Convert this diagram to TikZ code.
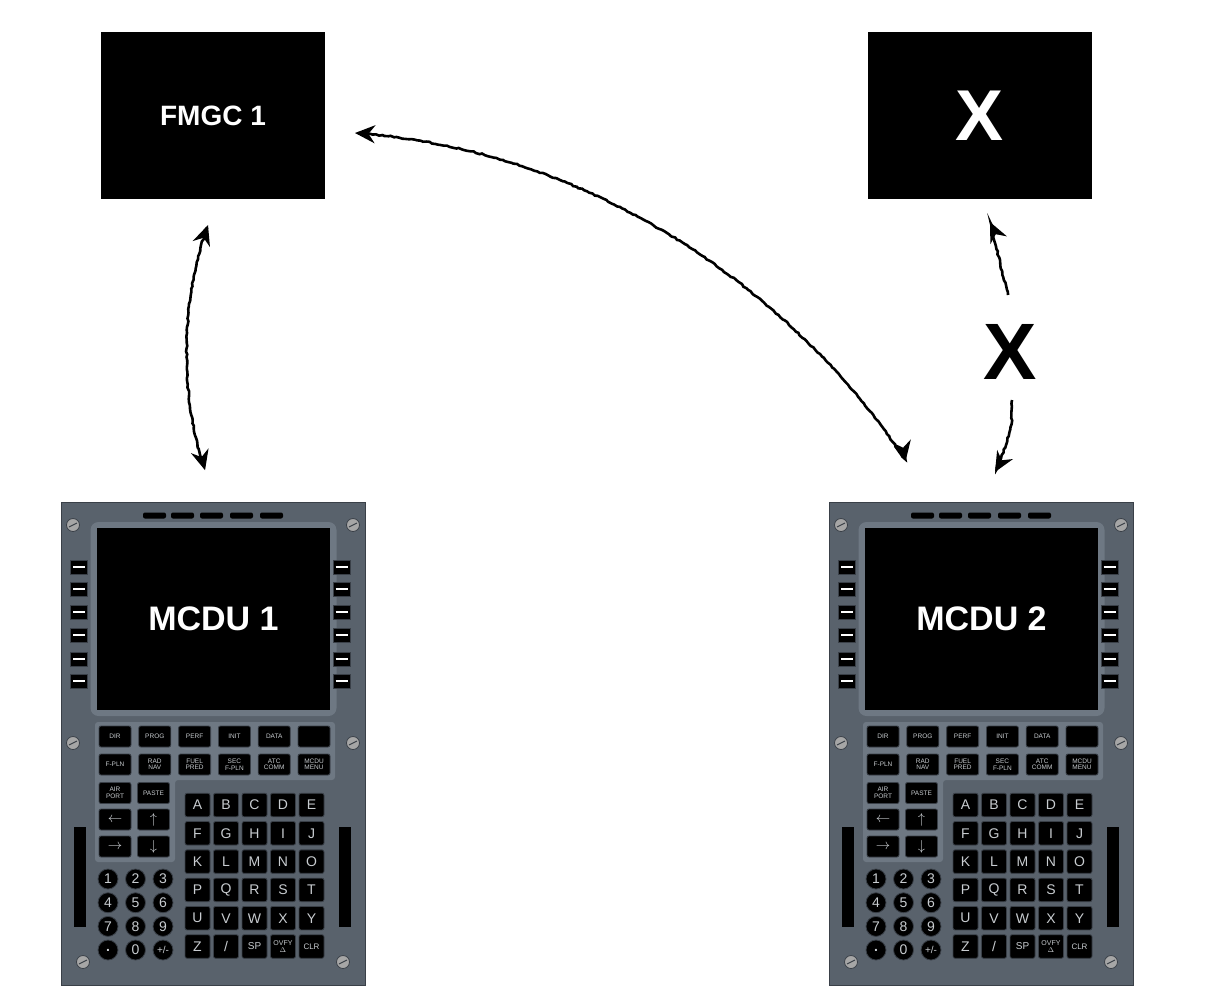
\documentclass[tikz,border=0pt]{standalone}
\usepackage{fontspec}
\setmainfont{Liberation Sans}
\usetikzlibrary{arrows.meta,decorations.pathmorphing,calc}
\definecolor{panel}{HTML}{59626C}
\definecolor{panelL}{HTML}{6E7883}
\definecolor{panelD}{HTML}{3A4048}
\definecolor{keyt}{HTML}{C8CCD0}
\tikzset{
 key/.style={fill=black, rounded corners=2pt, draw=panelD, line width=0.8pt, text=keyt,
   font=\fontsize{6.5}{6.5}\selectfont, align=center, inner sep=0, minimum width=32pt, minimum height=21pt},
 lkey/.style={key, minimum width=25pt, minimum height=23.5pt, font=\fontsize{14}{14}\selectfont},
 nkey/.style={circle, fill=black, draw=panelD, line width=0.8pt, text=keyt, inner sep=0,
   minimum size=20pt, font=\fontsize{14}{14}\selectfont},
 lsk/.style={fill=black, draw=panelD, minimum width=17pt, minimum height=14pt, inner sep=0},
 screw/.style={circle, fill=gray!70, draw=panelD, line width=0.8pt, minimum size=13pt, inner sep=0},
 blackbox/.style={fill=black, text=white, font=\bfseries\fontsize{28}{28}\selectfont, inner sep=0},
 sketch/.style={line width=2.6pt, black, decorate, decoration={random steps, segment length=3pt, amplitude=0.7pt},
   -{Stealth[length=20pt,width=18pt]}},
}
\newcommand\mcdu[3]{%
\begin{scope}[shift={(#1,0)}]
 \node[draw=panelD, fill=panel, line width=1pt, minimum width=304pt, minimum height=483pt, inner sep=0] (#3) at (213,743.5) {};
 \foreach \x[count=\i] in {154.5,182.5,211.5,241.5,271.5}
   \node[fill=black, rounded corners=2pt, minimum width=23pt, minimum height=6pt, inner sep=0] (#3slot\i) at (\x,515.5) {};
 \node[fill=panelL, rounded corners=8pt, minimum width=246pt, minimum height=194pt, inner sep=0] (#3bezel) at (213.5,619) {};
 \node[fill=black, minimum width=233pt, minimum height=182pt, inner sep=0, text=white,
   font=\bfseries\fontsize{34}{34}\selectfont] (#3scr) at (213.5,619) {#2};
 \foreach \y[count=\i] in {567,589,612,635,659,681}{
   \node[lsk] (#3l\i) at (79,\y) {};
   \draw[white, line width=1.2pt] (73,\y) -- (85,\y);
   \node[lsk] (#3r\i) at (341.5,\y) {};
   \draw[white, line width=1.2pt] (335.5,\y) -- (347.5,\y);}
 \foreach \px/\py[count=\i] in {73/525,353/525,73/743,353/743,83/962,343/962}{
   \node[screw] (#3s\i) at (\px,\py) {};
   \draw[panelD, line width=1pt] ($(\px,\py)+(-4,2)$) -- ($(\px,\py)+(4,-2)$);}
 \fill[panelL, rounded corners=3pt] (95,722) -- (335,722) -- (335,780) -- (175,780) -- (175,862) -- (95,862) -- cycle;
 \fill[black] (74,827) rectangle (86,927);
 \fill[black] (339,827) rectangle (351,927);
 \foreach \t[count=\i] in {DIR,PROG,PERF,INIT,DATA,{}}
   \node[key] (#3fa\i) at ({115+(\i-1)*39.8},736.5) {\t};
 \foreach \t[count=\i] in {F-PLN,{RAD\\NAV},{FUEL\\PRED},{SEC\\F-PLN},{ATC\\COMM},{MCDU\\MENU}}
   \node[key] (#3fb\i) at ({115+(\i-1)*39.8},764.5) {\t};
 \node[key] (#3ap) at (115,793) {AIR\\PORT};
 \node[key] (#3ps) at (153.5,793) {PASTE};
 \node[key, font=\fontsize{14}{14}\selectfont] (#3al) at (115,819.5) {$\leftarrow$};
 \node[key, font=\fontsize{14}{14}\selectfont] (#3au) at (153.5,819.5) {$\uparrow$};
 \node[key, font=\fontsize{14}{14}\selectfont] (#3ar) at (115,846.5) {$\rightarrow$};
 \node[key, font=\fontsize{14}{14}\selectfont] (#3ad) at (153.5,846.5) {$\downarrow$};
 \foreach \row[count=\j] in {{A,B,C,D,E},{F,G,H,I,J},{K,L,M,N,O},{P,Q,R,S,T},{U,V,W,X,Y}}
   \foreach \t[count=\i] in \row
     \node[lkey] (#3k\j-\i) at ({197.5+(\i-1)*28.5},{805+(\j-1)*28.3}) {\t};
 \node[lkey] (#3z1) at (197.5,946.5) {Z};
 \node[lkey] (#3z2) at (226,946.5) {/};
 \node[lkey, font=\fontsize{10}{10}\selectfont] (#3z3) at (254.5,946.5) {SP};
 \node[lkey, font=\fontsize{7}{7}\selectfont] (#3z4) at (283,946.5) {OVFY\\$\Delta$};
 \node[lkey, font=\fontsize{8}{8}\selectfont] (#3z5) at (311.5,946.5) {CLR};
 \foreach \t[count=\i] in {1,2,3,4,5,6,7,8,9}
   \node[nkey] (#3n\i) at ({108+mod(\i-1,3)*27.5},{879+int((\i-1)/3)*23.7}) {\t};
 \node[nkey] (#3n10) at (108,950) {\textbf{.}};
 \node[nkey] (#3n11) at (135.5,950) {0};
 \node[nkey, font=\fontsize{10}{10}\selectfont] (#3n12) at (163,950) {+/-};
\end{scope}}
\begin{document}
\begin{tikzpicture}[x=1pt,y=-1pt]
\useasboundingbox[fill=white] (0,0) rectangle (1221,1002);
\node[blackbox, minimum width=224pt, minimum height=167pt] (fmgc) at (213,115.5) {FMGC 1};
\node[blackbox, minimum width=224pt, minimum height=167pt, font=\bfseries\fontsize{72}{72}\selectfont] (xbox) at (980,115.5) {X};
\mcdu{0}{MCDU 1}{ma}
\mcdu{768}{MCDU 2}{mb}
\coordinate (a1) at (208,225); \coordinate (a2) at (205,470);
\coordinate (b1) at (355,133); \coordinate (b2) at (905,460);
\coordinate (c1) at (1008,295); \coordinate (c2) at (990,222);
\coordinate (d1) at (1012,400); \coordinate (d2) at (995,472);
\draw[sketch, {Stealth[length=20pt,width=18pt]}-{Stealth[length=20pt,width=18pt]}] (a1) .. controls (180,300) and (180,400) .. (a2);
\draw[sketch, {Stealth[length=20pt,width=18pt]}-{Stealth[length=20pt,width=18pt]}] (b1) .. controls (600,150) and (800,300) .. (b2);
\draw[sketch] (c1) -- (c2);
\draw[sketch] (d1) .. controls (1012,430) .. (d2);
\node[font=\bfseries\fontsize{80}{80}\selectfont, inner sep=0] (bigx) at (1010,352) {X};
\end{tikzpicture}
\end{document}
